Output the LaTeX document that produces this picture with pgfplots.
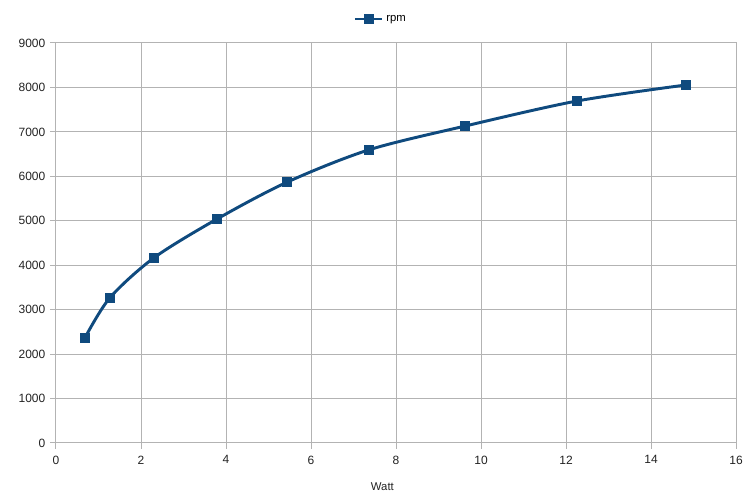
\documentclass[border=0pt]{standalone}
\usepackage{fontspec}
\setmainfont{Liberation Sans}
\usepackage{pgfplots}
\pgfplotsset{compat=1.18}
\definecolor{lobl}{HTML}{0F4A7E}
\definecolor{gridc}{HTML}{B3B3B3}
\definecolor{txt}{HTML}{222222}
\begin{document}
\begin{tikzpicture}
\begin{axis}[
  scale only axis,
  width=510pt, height=300pt,
  xmin=0, xmax=16, ymin=0, ymax=9000,
  xtick={0,2,...,16}, ytick={0,1000,...,9000},
  grid=major,
  grid style={gridc, line width=0.75pt},
  axis line style={gridc, line width=0.75pt},
  tick style={gridc, line width=0.75pt},
  tick align=outside,
  major tick length=4.5pt,
  xtick pos=bottom, ytick pos=left,
  /pgf/number format/assume math mode=true,
  /pgf/number format/1000 sep={},
  tick label style={font=\fontsize{9}{10}\selectfont, text=txt},
  xticklabel style={yshift=-1.5pt},
  xlabel={Watt},
  xlabel style={font=\fontsize{8.5}{10}\selectfont, text=txt, at={(axis description cs:0.48,0)}, anchor=north, yshift=-26pt},
  legend style={draw=none, fill=none, font=\fontsize{8.5}{10}\selectfont, at={(axis description cs:0.478,1)}, anchor=center, yshift=18pt, legend cell align=left},
  legend image code/.code={\draw[#1, sharp plot] (0cm,0cm) -- (0.36cm,0cm) plot coordinates {(0.36cm,0cm)} -- (0.72cm,0cm);},
]
\addplot[color=lobl, line width=2.2pt, smooth, tension=0.5, mark=square*, mark size=3.3pt, mark options={fill=lobl, draw=lobl, line width=0pt}]
coordinates {
(0.68,2365) (1.27,3270) (2.31,4170) (3.79,5040) (5.44,5870) (7.36,6595) (9.62,7130) (12.26,7695) (14.82,8055)
};
\addlegendentry{rpm}
\end{axis}
\pgfresetboundingbox
\path ([shift={(-42pt,-42.75pt)}]current axis.south west) rectangle ([shift={(10.5pt,32.25pt)}]current axis.north east);
\end{tikzpicture}
\end{document}
